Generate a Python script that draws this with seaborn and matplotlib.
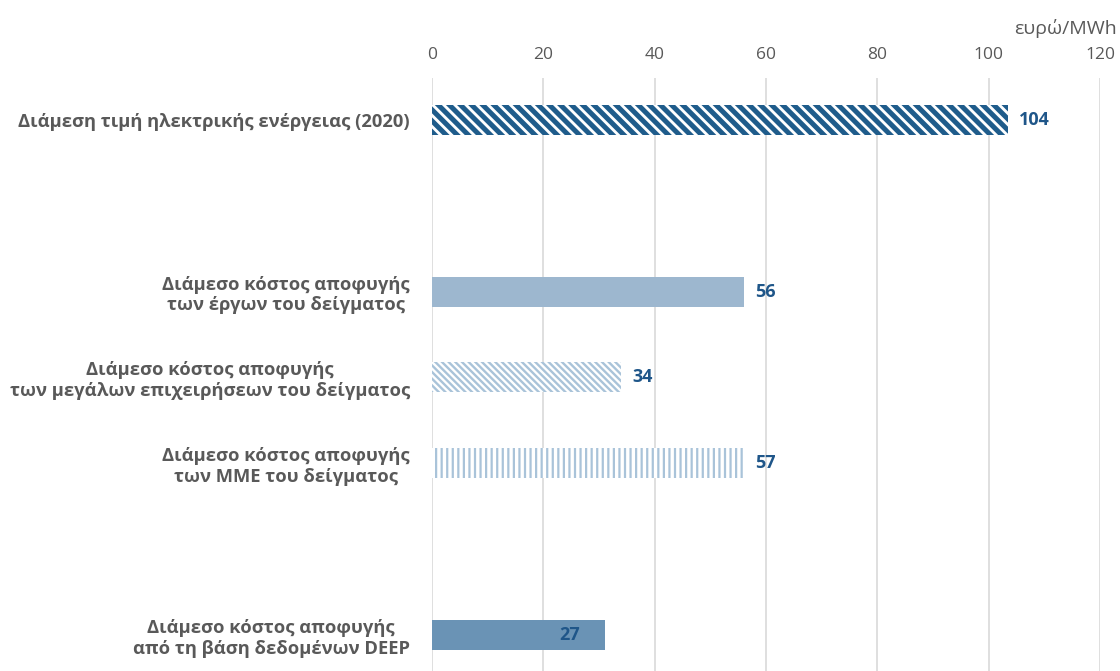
import matplotlib
matplotlib.use("Agg")
import matplotlib.pyplot as plt
import seaborn as sns
import pandas as pd

categories = [
    "Διάμεση τιμή ηλεκτρικής ενέργειας (2020)",
    "Διάμεσο κόστος αποφυγής\nτων έργων του δείγματος",
    "Διάμεσο κόστος αποφυγής\nτων μεγάλων επιχειρήσεων του δείγματος",
    "Διάμεσο κόστος αποφυγής\nτων ΜΜΕ του δείγματος",
    "Διάμεσο κόστος αποφυγής\nαπό τη βάση δεδομένων DEEP",
]
slots = [0, 2, 3, 4, 6]
bar_lengths = [103.5, 56, 34, 56, 31]
value_labels = ["104", "56", "34", "57", "27"]
x_ticks = [0, 20, 40, 60, 80, 100, 120]
unit_label = "ευρώ/MWh"

sns.set_theme(style="white")
plt.rcParams["font.family"] = ["Open Sans", "DejaVu Sans"]

df = pd.DataFrame({"slot": slots, "value": bar_lengths, "cat": categories})

fig = plt.figure(figsize=(11.2, 6.71), dpi=100)
ax = fig.add_axes([0.3857, 0.0, 0.5964, 0.884])

sns.barplot(data=df, x="value", y="slot", orient="h", native_scale=True,
            width=0.35, color="#9DB7CF", ax=ax, linewidth=0, zorder=3)

styles = [
    dict(fc="white", hatch="\\" * 3, ec="#1F5C8B", hlw=3.6),
    dict(fc="#9DB7CF", hatch=None, ec="#9DB7CF", hlw=1.0),
    dict(fc="white", hatch="\\" * 5, ec="#A9C3D9", hlw=1.7),
    dict(fc="white", hatch="|" * 3, ec="#A9C3D9", hlw=1.6),
    dict(fc="#6A93B5", hatch=None, ec="#6A93B5", hlw=1.0),
]
patches = sorted(ax.patches, key=lambda p: p.get_y())
for p, st in zip(patches, styles):
    p.set_facecolor(st["fc"])
    p.set_edgecolor(st["ec"])
    p.set_linewidth(0)
    if st["hatch"]:
        p.set_hatch(st["hatch"])
        try:
            p.set_hatch_linewidth(st["hlw"])
        except Exception:
            pass

label_color = "#1F5689"
for i, (s, v, lab) in enumerate(zip(slots, bar_lengths, value_labels)):
    if i == len(slots) - 1:
        ax.annotate(lab, xy=(v, s), xytext=(-18, 0), textcoords="offset points",
                    ha="right", va="center", fontsize=13, fontweight="bold",
                    color=label_color, zorder=5)
    else:
        ax.annotate(lab, xy=(v, s), xytext=(8, 0), textcoords="offset points",
                    ha="left", va="center", fontsize=13, fontweight="bold",
                    color=label_color, zorder=5)

ax.set_xlim(0, 120)
ax.set_ylim(6.42, -0.49)
ax.set_xticks(x_ticks)
ax.set_xticklabels([str(t) for t in x_ticks])
ax.xaxis.tick_top()
ax.tick_params(axis="x", length=0, pad=11, labelsize=12.5, labelcolor="#595959")
ax.set_yticks(slots)
ax.set_yticklabels(categories, fontsize=13.2, fontweight="bold", color="#595959",
                   multialignment="center")
ax.tick_params(axis="y", length=0, pad=16)
ax.set_xlabel("")
ax.set_ylabel("")
ax.grid(axis="x", color="#D9D9D9", linewidth=1.2, zorder=0)
ax.set_axisbelow(True)
for sp in ax.spines.values():
    sp.set_visible(False)

fig.text(0.9975, 0.958, unit_label, ha="right", va="center", fontsize=14,
         color="#595959")

fig.savefig("out.png", dpi=100)
